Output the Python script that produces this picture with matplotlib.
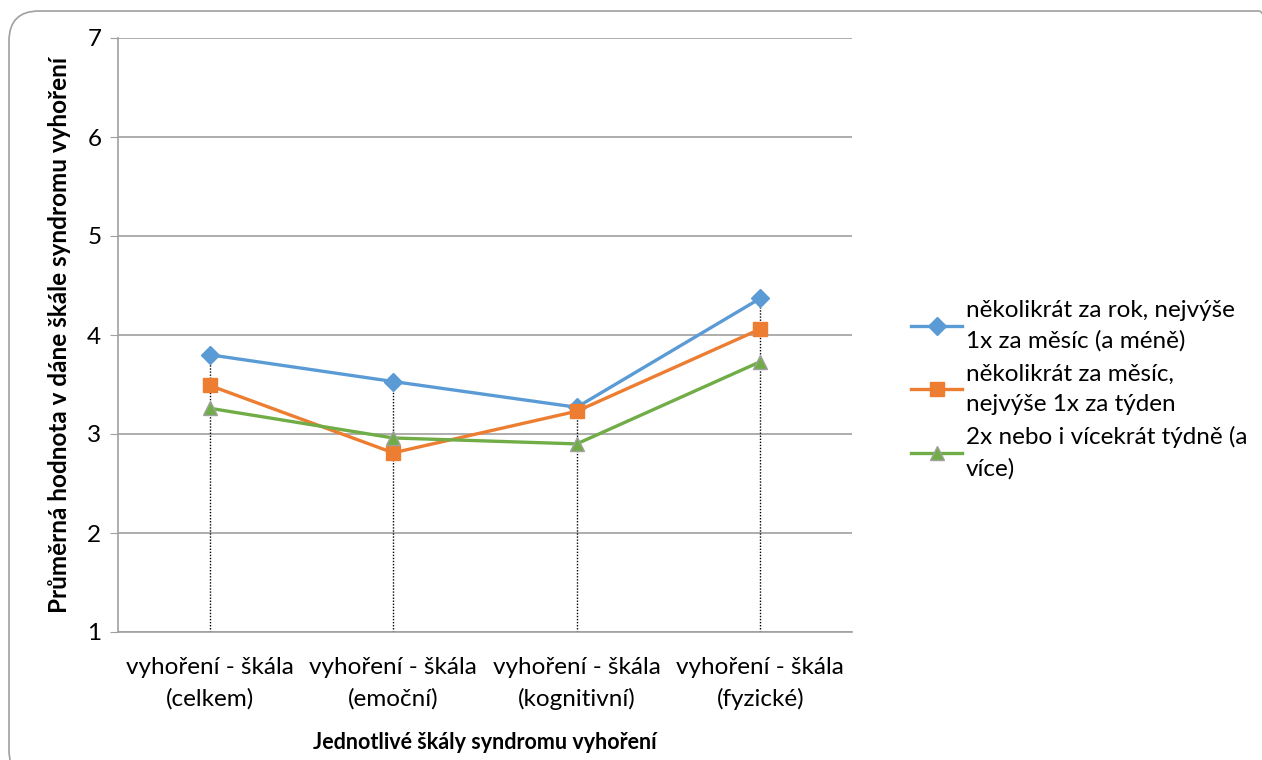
import matplotlib.pyplot as plt
from matplotlib.patches import FancyBboxPatch
from matplotlib.transforms import IdentityTransform

# --- Dados ---
kategorie = ['vyhoření - škála\n(celkem)', 'vyhoření - škála\n(emoční)',
             'vyhoření - škála\n(kognitivní)', 'vyhoření - škála\n(fyzické)']

rok = [3.80, 3.53, 3.27, 4.37]
mesic = [3.49, 2.81, 3.23, 4.06]
tyden = [3.26, 2.96, 2.90, 3.73]

popisky = ['několikrát za rok, nejvýše\n1x za měsíc (a méně)',
           'několikrát za měsíc,\nnejvýše 1x za týden',
           '2x nebo i vícekrát týdně (a\nvíce)']

barvy = ['#5B9BD5', '#ED7D31', '#70AD47']
znacky = ['D', 's', '^']

plt.rcParams['font.family'] = ['Lato', 'DejaVu Sans']

fig = plt.figure(figsize=(12.62, 7.6), dpi=100)
ax = fig.add_axes([118 / 1262, 1 - 632 / 760, (852 - 118) / 1262, (632 - 38) / 760])

x = list(range(len(kategorie)))

# svislé spojnice od maxima k ose
for i in x:
    vrchol = max(rok[i], mesic[i], tyden[i])
    ax.plot([i, i], [1, vrchol], color='black', linestyle=(0, (1, 1.2)), linewidth=1, zorder=2)

for data, barva, znacka, popis in zip([rok, mesic, tyden], barvy, znacky, popisky):
    ms = 10 if znacka == 's' else 9.5
    mec = '#A0A0A0' if znacka == '^' else barva
    ax.plot(x, data, color=barva, linewidth=2.4, marker=znacka, markersize=ms,
            markerfacecolor=barva, markeredgecolor=mec, label=popis, zorder=3)

ax.set_xlim(-0.5, len(kategorie) - 0.5)
ax.set_ylim(1, 7)
ax.set_yticks(range(1, 8))
ax.set_xticks(x)
ax.set_xticklabels(kategorie, fontsize=17.5, linespacing=1.55)
ax.tick_params(axis='x', length=0, pad=18)
ax.tick_params(axis='y', labelsize=17.5, length=6, color='#A0A0A0', pad=6)

ax.grid(axis='y', color='#A0A0A0', linewidth=1.2)
ax.set_axisbelow(True)
for strana in ['top', 'right']:
    ax.spines[strana].set_visible(False)
for strana in ['left', 'bottom']:
    ax.spines[strana].set_color('#A0A0A0')
    ax.spines[strana].set_linewidth(1.2)

ax.set_xlabel('Jednotlivé škály syndromu vyhoření', fontsize=15.5, fontweight='bold', labelpad=16)
ax.set_ylabel('Průměrná hodnota v dáne škále syndromu vyhoření', fontsize=17.5,
              fontweight='bold', labelpad=12)

leg = ax.legend(loc='center left', bbox_to_anchor=(1.051, 0.408), frameon=False,
                fontsize=17.5, handlelength=2.1, handletextpad=0.15, labelspacing=0.47)
for t in leg.get_texts():
    t.set_linespacing(1.55)

# zaoblený rámeček grafu
ramecek = FancyBboxPatch((9, -20), 1280, 769, boxstyle='round,pad=0,rounding_size=30',
                         transform=IdentityTransform(), facecolor='none',
                         edgecolor='#A0A0A0', linewidth=1.2)
fig.patches.append(ramecek)

fig.savefig('out.png', dpi=100)
